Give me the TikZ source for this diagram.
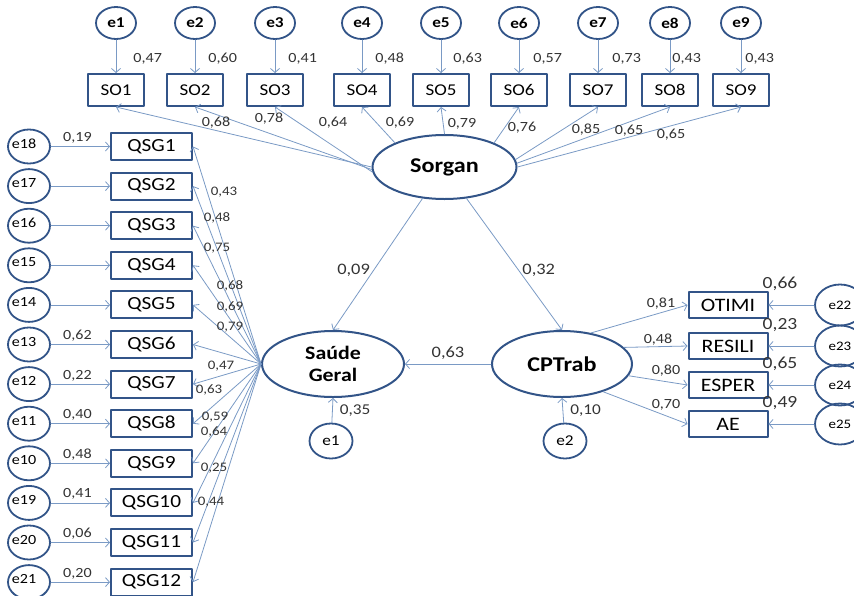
\documentclass[tikz,border=0pt]{standalone}
\usepackage{fontspec}
\setmainfont{Carlito}[FakeStretch=1.15]
\usetikzlibrary{arrows.meta,positioning,shapes.geometric}
\definecolor{boxblue}{RGB}{50,84,136}
\definecolor{lineblue}{RGB}{122,154,197}
\newcommand{\fsz}[1]{\fontsize{#1}{#1}\selectfont}

\begin{document}
\begin{tikzpicture}[
  x=1pt, y=-1pt,
  line cap=round,
  line join=round,
  obs/.style={
    draw=boxblue,
    line width=2pt,
    minimum width=56,
    minimum height=32,
    inner sep=1pt,
    font=\fsz{16.5}
  },
  qsg/.style={
    obs,
    minimum width=81,
    minimum height=27,
    font=\fsz{18.5}
  },
  err/.style={
    draw=boxblue,
    ellipse,
    line width=1.8pt,
    minimum width=40,
    minimum height=32,
    inner sep=0pt,
    font=\fsz{14}
  },
  lat/.style={
    draw=boxblue,
    ellipse,
    line width=2pt,
    minimum width=144,
    minimum height=64,
    align=center,
    font=\fsz{21}\bfseries
  },
  arr/.style={
    -{Straight Barb[length=4pt,width=9pt]},
    line width=0.8pt,
    draw=lineblue
  },
  lab/.style={
    font=\fsz{14},
    text=black!80,
    inner sep=1pt
  },
  labs/.style={lab, font=\fsz{13}},
  labb/.style={lab, font=\fsz{16}}
]
\useasboundingbox (0,0) rectangle (854,595);

% Latent variables
\node[lat] (sorg) at (444.5,167) {Sorgan};
\node[lat, minimum width=142, minimum height=66, font=\fsz{19}\bfseries,
      text depth=0pt] (sg) at (333,364) {Saúde\\[3pt]Geral};
\node[lat, minimum width=140, minimum height=66] (cp) at (562,364) {CPTrab};

% Sorgan indicators
\foreach \i/\x/\v/\gap in {1/116/{0,47}/16, 2/195/{0,60}/12, 3/275/{0,41}/12,
                           4/362/{0,48}/12, 5/441/{0,63}/11, 6/519/{0,57}/13,
                           7/598/{0,73}/13, 8/670/{0,43}/1, 9/741/{0,43}/3}{
  \node[err, font=\fsz{15}\bfseries] (et\i) at (\x,23) {e\i};
  \node[obs] (so\i) at (\x,90) {SO\i};
  \draw[arr] (et\i) -- node[lab, right=\gap, pos=0.58] (ls\i) {\v} (so\i);
}

\draw[arr] (sorg.west)  -- (so1.south);
\draw[arr] (sorg.182)   -- (so2.south);
\draw[arr] (sorg.184)   -- (so3.south);
\draw[arr] (sorg.154)   -- (so4.south);
\draw[arr] (sorg.north) -- (so5.south);
\draw[arr] (sorg.26)    -- (so6.south);
\draw[arr] (sorg.6)     -- (so7.south);
\draw[arr] (sorg.3)     -- (so8.south);
\draw[arr] (sorg.east)  -- (so9.south);

\foreach \v/\x/\y [count=\n] in {{0,68}/216/123, {0,78}/269/119, {0,64}/333/123,
                                 {0,69}/400/123, {0,79}/462/124, {0,76}/522/128,
                                 {0,85}/586/130, {0,65}/629/131, {0,65}/671/135}
  \node[lab] (lo\n) at (\x,\y) {\v};

% Saude Geral indicators
\foreach \k/\e in {1/18, 2/17, 3/16, 4/15, 5/14, 6/13,
                   7/12, 8/11, 9/10, 10/19, 11/20, 12/21}{
  \node[qsg] (q\k) at (151.5,{146.5+39.6*(\k-1)}) {QSG\k};
  \node[err, minimum width=42, minimum height=34,
        label={[font=\fsz{14}, xshift=-5pt, yshift=3pt]center:e\e}]
    (e\e) at (29,{146.5+39.6*(\k-1)}) {};
  \draw[arr] (e\e) -- (q\k);
  \draw[arr] (sg.west) -- (q\k.east);
}

\foreach \e/\k/\v in {18/1/{0,19}, 13/6/{0,62}, 12/7/{0,22}, 11/8/{0,40},
                      10/9/{0,48}, 19/10/{0,41}, 20/11/{0,06}, 21/12/{0,20}}
  \path (e\e) -- node[lab, above=2pt, pos=0.45] (le\e) {\v} (q\k);

\foreach \v/\x/\y [count=\n] in {{0,43}/224/192, {0,48}/217/218, {0,75}/217/248,
                                 {0,68}/230/286, {0,69}/230/307, {0,79}/230/327,
                                 {0,47}/221/366, {0,63}/209/390, {0,59}/215/417,
                                 {0,64}/214/432, {0,25}/214/468, {0,44}/211/502}
  \node[labs] (lq\n) at (\x,\y) {\v};

% CPTrab indicators
\foreach \b/\t/\y/\e/\ang/\va/\vb in {otimi/OTIMI/305/22/47/{0,81}/{0,66},
                                      resili/RESILI/346/23/15/{0,48}/{0,23},
                                      esper/ESPER/385/24/-10/{0,80}/{0,65},
                                      ae/AE/424/25/-34/{0,70}/{0,49}}{
  \node[obs, minimum width=79, minimum height=26, font=\fsz{19}] (\b) at (728,\y) {\t};
  \node[err, minimum width=50, minimum height=41, font=\fsz{13}]
    (e\e) at (840,\y) {e\e};
  \draw[arr] (e\e) -- (\b.east);
  \draw[arr] (cp.\ang) -- (\b.west);
  \node[lab, font=\fsz{17}] (r\e) at (780,{\y-21}) {\vb};
}

\node[lab] (lc1) at (661,304) {0,81};
\node[lab] (lc2) at (658,340) {0,48};
\node[lab] (lc3) at (666,371) {0,80};
\node[lab] (lc4) at (666,405) {0,70};

% Structural paths
\draw[arr] (sorg.235) -- node[labb, pos=0.55, left=2pt] (b1) {0,09} (sg.north);
\draw[arr] (sorg.305) -- node[labb, pos=0.55, right=2pt] (b2) {0,32} (cp.north);
\draw[arr] (cp.west) -- node[labb, above=3pt] (b3) {0,63} (sg.east);

% Disturbances
\node[err, minimum width=43, minimum height=35, font=\fsz{15}] (eb1) at (331,441) {e1};
\node[err, minimum width=43, minimum height=35, font=\fsz{15}] (eb2) at (565,441) {e2};
\draw[arr] (eb1) -- node[lab, font=\fsz{15}, right=6pt] (d1) {0,35} (sg.south);
\draw[arr] (eb2) -- node[lab, font=\fsz{15}, right=6pt] (d2) {0,10} (cp.south);

\end{tikzpicture}
\end{document}
